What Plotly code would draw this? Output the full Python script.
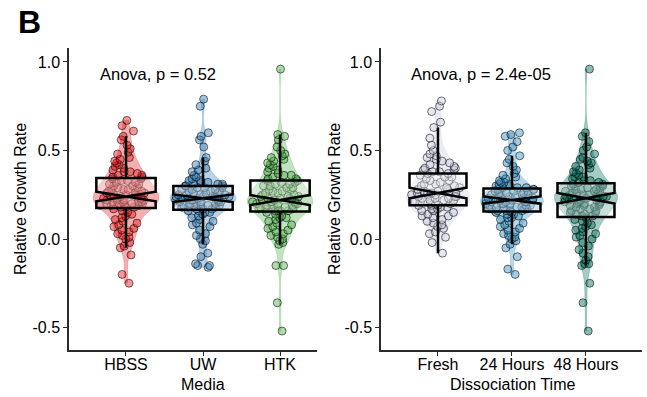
import numpy as np
import plotly.graph_objects as go

media_cats = ["HBSS", "UW", "HTK"]
time_cats = ["Fresh", "24 Hours", "48 Hours"]

hbss = [0.67, 0.64, 0.61, 0.58, 0.56, 0.53, 0.51, 0.49, 0.48, 0.46, 0.45, 0.44, 0.43, 0.42, 0.41, 0.40,
        0.39, 0.38, 0.38, 0.37, 0.36, 0.36, 0.35, 0.35,
        0.34, 0.34, 0.33, 0.33, 0.32, 0.32, 0.31, 0.31, 0.30, 0.30, 0.29, 0.29, 0.28, 0.28, 0.28, 0.27,
        0.27, 0.26, 0.26, 0.26, 0.25, 0.25, 0.25, 0.24,
        0.24, 0.24, 0.23, 0.23, 0.23, 0.22, 0.22, 0.22, 0.22, 0.21, 0.21, 0.21, 0.21, 0.20, 0.20, 0.20,
        0.20, 0.19, 0.19, 0.19, 0.19, 0.18, 0.18, 0.18,
        0.17, 0.16, 0.15, 0.14, 0.13, 0.12, 0.11, 0.10, 0.09, 0.08, 0.07, 0.06, 0.05, 0.04, 0.03, 0.02,
        0.01, 0.00, -0.02, -0.04, -0.05, -0.09, -0.20, -0.25]

uw = [0.79, 0.75, 0.60, 0.58, 0.56, 0.52, 0.46, 0.44, 0.42, 0.40, 0.39, 0.38, 0.36, 0.35, 0.34, 0.33,
      0.33, 0.32, 0.32, 0.31, 0.31, 0.31, 0.30, 0.30,
      0.30, 0.29, 0.29, 0.29, 0.28, 0.28, 0.28, 0.27, 0.27, 0.27, 0.26, 0.26, 0.26, 0.25, 0.25, 0.25,
      0.25, 0.24, 0.24, 0.24, 0.24, 0.24, 0.23, 0.23,
      0.23, 0.23, 0.22, 0.22, 0.22, 0.22, 0.21, 0.21, 0.21, 0.21, 0.20, 0.20, 0.20, 0.20, 0.19, 0.19,
      0.19, 0.18, 0.18, 0.18, 0.18, 0.17, 0.17, 0.17,
      0.16, 0.16, 0.15, 0.15, 0.14, 0.13, 0.12, 0.11, 0.10, 0.09, 0.08, 0.07, 0.05, 0.03, 0.02, 0.00,
      -0.01, -0.03, -0.08, -0.10, -0.14, -0.15, -0.15, -0.16]

htk = [0.96, 0.59, 0.58, 0.56, 0.52, 0.50, 0.48, 0.47, 0.46, 0.45, 0.44, 0.43, 0.42, 0.41, 0.40, 0.39,
       0.38, 0.37, 0.36, 0.36, 0.35, 0.34, 0.34, 0.33,
       0.33, 0.32, 0.32, 0.31, 0.31, 0.30, 0.30, 0.29, 0.29, 0.28, 0.28, 0.27, 0.27, 0.26, 0.26, 0.25,
       0.25, 0.24, 0.24, 0.24, 0.23, 0.23, 0.23, 0.22,
       0.22, 0.22, 0.21, 0.21, 0.21, 0.21, 0.20, 0.20, 0.20, 0.20, 0.19, 0.19, 0.19, 0.19, 0.18, 0.18,
       0.18, 0.17, 0.17, 0.17, 0.16, 0.16, 0.16, 0.16,
       0.15, 0.14, 0.13, 0.12, 0.12, 0.11, 0.10, 0.09, 0.08, 0.07, 0.06, 0.05, 0.04, 0.03, 0.02, 0.01,
       0.00, -0.01, -0.02, -0.03, -0.15, -0.15, -0.36, -0.52]

fresh = [0.78, 0.75, 0.72, 0.66, 0.63, 0.57, 0.53, 0.50, 0.48, 0.47, 0.46, 0.45, 0.44, 0.43, 0.42, 0.41,
         0.40, 0.40, 0.39, 0.39, 0.38, 0.38,
         0.37, 0.37, 0.36, 0.35, 0.35, 0.34, 0.33, 0.33, 0.32, 0.31, 0.31, 0.30, 0.30, 0.29, 0.29, 0.28,
         0.28, 0.27, 0.27, 0.27, 0.26, 0.26, 0.26,
         0.26, 0.25, 0.25, 0.25, 0.24, 0.24, 0.24, 0.23, 0.23, 0.23, 0.22, 0.22, 0.22, 0.21, 0.21, 0.21,
         0.21, 0.20, 0.20, 0.20, 0.19, 0.19, 0.19,
         0.18, 0.18, 0.17, 0.17, 0.16, 0.16, 0.15, 0.14, 0.13, 0.13, 0.12, 0.11, 0.10, 0.09, 0.08, 0.07,
         0.06, 0.04, 0.03, 0.01, -0.02, -0.08]

h24 = [0.60, 0.59, 0.58, 0.55, 0.52, 0.50, 0.47, 0.45, 0.43, 0.41, 0.39, 0.37, 0.36, 0.35, 0.34, 0.33,
       0.32, 0.32, 0.31, 0.31, 0.30, 0.30, 0.29, 0.29, 0.29,
       0.28, 0.28, 0.28, 0.27, 0.27, 0.27, 0.26, 0.26, 0.26, 0.25, 0.25, 0.25, 0.25, 0.24, 0.24, 0.24,
       0.24, 0.23, 0.23, 0.23, 0.23, 0.22, 0.22, 0.22, 0.22,
       0.22, 0.21, 0.21, 0.21, 0.21, 0.20, 0.20, 0.20, 0.20, 0.19, 0.19, 0.19, 0.19, 0.18, 0.18, 0.18,
       0.18, 0.17, 0.17, 0.17, 0.17, 0.16, 0.16, 0.16, 0.16,
       0.15, 0.15, 0.14, 0.14, 0.13, 0.12, 0.12, 0.11, 0.10, 0.09, 0.08, 0.07, 0.06, 0.05, 0.04, 0.03,
       0.02, 0.01, 0.00, -0.01, -0.03, -0.05, -0.10, -0.17, -0.20]

h48 = [0.96, 0.60, 0.58, 0.55, 0.52, 0.50, 0.48, 0.46, 0.45, 0.44, 0.43, 0.42, 0.41, 0.40, 0.39, 0.38,
       0.37, 0.36, 0.35, 0.35, 0.34, 0.33, 0.33, 0.32, 0.32,
       0.31, 0.31, 0.30, 0.30, 0.29, 0.29, 0.28, 0.28, 0.28, 0.27, 0.27, 0.27, 0.26, 0.26, 0.26, 0.25,
       0.25, 0.25, 0.24, 0.24, 0.24, 0.24, 0.23, 0.23, 0.23,
       0.23, 0.22, 0.22, 0.22, 0.21, 0.21, 0.21, 0.20, 0.20, 0.20, 0.19, 0.19, 0.19, 0.18, 0.18, 0.17,
       0.17, 0.16, 0.16, 0.15, 0.15, 0.14, 0.14, 0.13, 0.13,
       0.12, 0.11, 0.10, 0.09, 0.08, 0.07, 0.06, 0.05, 0.04, 0.03, 0.02, 0.01, 0.00, -0.02, -0.04, -0.06,
       -0.08, -0.10, -0.12, -0.14, -0.14, -0.15, -0.25, -0.36, -0.52]

media_vals = [hbss, uw, htk]
time_vals = [fresh, h24, h48]
media_colors = ["#E41A1C", "#377EB8", "#4DAF4A"]
time_colors = ["#C9CAE0", "#3690C0", "#016C59"]

y_ticks = [-0.5, 0.0, 0.5, 1.0]
y_ticktext = ["-0.5", "0.0", "0.5", "1.0"]


def rgba(hex_color, a):
    h = hex_color.lstrip("#")
    r, g, b = int(h[0:2], 16), int(h[2:4], 16), int(h[4:6], 16)
    return f"rgba({r},{g},{b},{a})"


fig = go.Figure()


def add_group(xa, ya, cat, vals, color):
    xs = [cat] * len(vals)
    arr = np.asarray(vals)
    q1, q3 = np.percentile(arr, [25, 75])
    span = 1.58 * (q3 - q1) / np.sqrt(len(arr))
    fig.add_trace(go.Violin(
        x=xs, y=vals, xaxis=xa, yaxis=ya, width=0.85, scalemode="width", spanmode="hard",
        fillcolor=rgba(color, 0.35), line=dict(color=rgba(color, 0.45), width=0.6),
        points=False, box_visible=False, meanline_visible=False, showlegend=False, hoverinfo="skip"))
    fig.add_trace(go.Box(
        x=xs, y=vals, xaxis=xa, yaxis=ya, width=0.77, notched=True, notchwidth=0.5,
        notchspan=[float(span)],
        boxpoints="outliers", marker=dict(size=1, opacity=0, color="rgba(0,0,0,0)"),
        fillcolor="rgba(255,255,255,0.35)", whiskerwidth=0,
        line=dict(color="black", width=2.5), showlegend=False, hoverinfo="skip"))
    fig.add_trace(go.Violin(
        x=xs, y=vals, xaxis=xa, yaxis=ya, width=0.85, scalemode="width", spanmode="hard",
        fillcolor="rgba(0,0,0,0)", line=dict(color="rgba(0,0,0,0)", width=0),
        points="all", pointpos=0, jitter=0.85,
        marker=dict(size=8, color=rgba(color, 0.45), line=dict(color="rgba(0,0,0,0.55)", width=1)),
        box_visible=False, meanline_visible=False, showlegend=False))


for c, v, col in zip(media_cats, media_vals, media_colors):
    add_group("x", "y", c, v, col)
for c, v, col in zip(time_cats, time_vals, time_colors):
    add_group("x2", "y2", c, v, col)

font = "Liberation Sans, Arial, sans-serif"
axis_common = dict(showline=True, linecolor="#2b2b2b", linewidth=1.5, ticks="outside", ticklen=4,
                   tickwidth=1.2, tickcolor="#2b2b2b", showgrid=False, zeroline=False,
                   tickfont=dict(family=font, size=16, color="black"))

fig.update_layout(
    width=647, height=397, margin=dict(l=0, r=0, t=0, b=0),
    paper_bgcolor="white", plot_bgcolor="white",
    violinmode="overlay", boxmode="overlay", showlegend=False,
    xaxis=dict(domain=[69 / 647, 317 / 647], type="category", categoryorder="array",
               categoryarray=media_cats, range=[-0.74, 2.48], anchor="y",
               ticklabelstandoff=-5, **axis_common),
    yaxis=dict(domain=[1 - 350 / 397, 1 - 48 / 397], range=[-0.627, 1.079], anchor="x",
               tickvals=y_ticks, ticktext=y_ticktext, **axis_common),
    xaxis2=dict(domain=[381 / 647, 642 / 647], type="category", categoryorder="array",
                categoryarray=time_cats, range=[-0.77, 2.757], anchor="y2",
                ticklabelstandoff=-5, **axis_common),
    yaxis2=dict(domain=[1 - 350 / 397, 1 - 48 / 397], range=[-0.627, 1.079], anchor="x2",
                tickvals=y_ticks, ticktext=y_ticktext, **axis_common),
)

anns = [
    dict(text="<b>B</b>", x=29 / 647, y=1 - 22 / 397, font=dict(size=32)),
    dict(text="Relative Growth Rate", x=20 / 647, y=1 - 199 / 397, textangle=-90, font=dict(size=16)),
    dict(text="Relative Growth Rate", x=334 / 647, y=1 - 199 / 397, textangle=-90, font=dict(size=16)),
    dict(text="Media", x=203 / 647, y=1 - 384 / 397, font=dict(size=16)),
    dict(text="Dissociation Time", x=512 / 647, y=1 - 384 / 397, font=dict(size=16)),
    dict(text="Anova, p = 0.52", x=158 / 647, y=1 - 74 / 397, font=dict(size=16.5)),
    dict(text="Anova, p = 2.4e-05", x=481 / 647, y=1 - 74 / 397, font=dict(size=16.5)),
]
for a in anns:
    a["font"]["family"] = font
    a["font"]["color"] = "black"
    fig.add_annotation(xref="paper", yref="paper", xanchor="center", yanchor="middle",
                       showarrow=False, **a)

fig.write_html("out.html")
